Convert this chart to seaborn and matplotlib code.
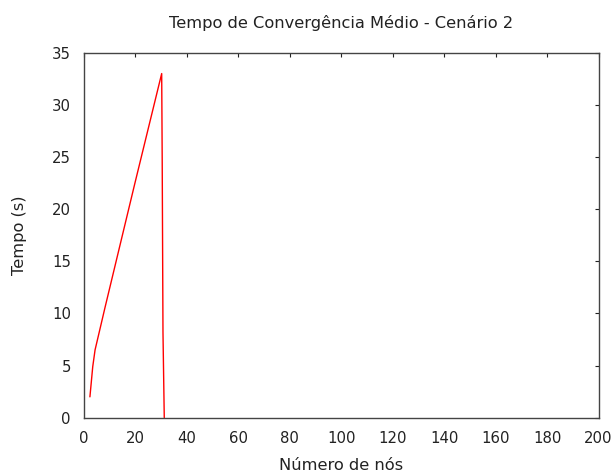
import matplotlib
matplotlib.use("Agg")
import matplotlib.pyplot as plt
import seaborn as sns
import pandas as pd

numero_nos = [2.3, 3.4, 4.3, 8.2, 19.8, 30.2, 30.4, 30.7, 31.2]
tempo = [2.0, 4.9, 6.5, 10.6, 22.5, 33.0, 24.7, 8.2, 0.0]
x_ticks = [0, 20, 40, 60, 80, 100, 120, 140, 160, 180, 200]
y_ticks = [0, 5, 10, 15, 20, 25, 30, 35]

sns.set_style("white")
plt.rcParams['font.family'] = ['DejaVu Sans']

df = pd.DataFrame({"x": numero_nos, "y": tempo})
fig = plt.figure(figsize=(6.14, 4.72), dpi=100)
L, R, T, B = 84, 598.5, 52.7, 417.7
ax = fig.add_axes([L/614, 1-B/472, (R-L)/614, (B-T)/472])
sns.lineplot(data=df, x="x", y="y", sort=False, estimator=None, color="red", linewidth=1.0, ax=ax)
ax.set_xlim(0, 200)
ax.set_ylim(0, 35)
ax.set_xticks(x_ticks)
ax.set_yticks(y_ticks)
ax.tick_params(direction="in", top=True, right=True, length=3, width=0.8, labelsize=10.7,
               color="#222222", labelcolor="#222222", pad=9.4)
for s in ax.spines.values():
    s.set_color("#444444")
    s.set_linewidth(1.0)
ax.set_xlabel("Número de nós", fontsize=11.7, labelpad=9, color="#222222")
ax.set_ylabel("Tempo (s)", fontsize=11.7, labelpad=18, color="#222222")
ax.set_title("Tempo de Convergência Médio - Cenário 2", fontsize=11.7, pad=18, color="#222222")
fig.savefig("out.png", dpi=100)
